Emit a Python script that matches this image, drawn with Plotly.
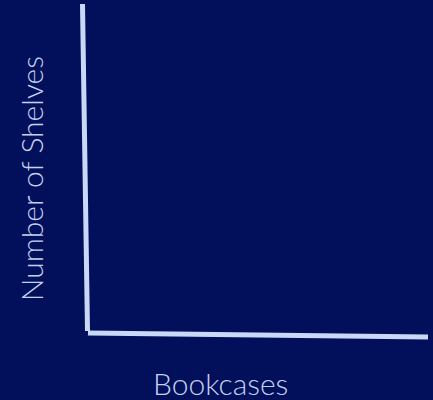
import plotly.graph_objects as go

# Data (the reference chart is empty: no marks are drawn)
bookcases = []
shelves = []

x_title = "Bookcases"
y_title = "Number of Shelves"

bg = "#020f5b"
line_col = "#c8d8f6"
text_col = "#c3d2f0"

fig = go.Figure()
fig.add_trace(go.Scatter(x=bookcases, y=shelves, mode="markers",
                         marker=dict(color=line_col), showlegend=False))

fig.update_layout(
    width=433, height=400,
    margin=dict(l=85, r=5, t=4, b=65),
    paper_bgcolor=bg, plot_bgcolor=bg,
    xaxis=dict(visible=False, range=[0, 1]),
    yaxis=dict(visible=False, range=[0, 1]),
    shapes=[
        dict(type="line", xref="paper", yref="paper",
             x0=-0.0073, y0=1.0, x1=0.0073, y1=0.012,
             line=dict(color=line_col, width=5)),
        dict(type="line", xref="paper", yref="paper",
             x0=0.0087, y0=0.006, x1=1.0, y1=-0.006,
             line=dict(color=line_col, width=5)),
    ],
    annotations=[
        dict(text=x_title, xref="paper", yref="paper", x=0.396, y=-0.145,
             showarrow=False, xanchor="center", yanchor="middle",
             font=dict(family="Lato", size=30, weight=300, color=text_col)),
        dict(text=y_title, xref="paper", yref="paper", x=-0.157, y=0.471,
             showarrow=False, xanchor="center", yanchor="middle", textangle=-90,
             font=dict(family="Lato", size=30, weight=300, color=text_col)),
    ],
)

fig.write_html("out.html", config={"displayModeBar": False},
               post_script="document.body.style.margin='0';document.body.style.background='%s';" % bg)
